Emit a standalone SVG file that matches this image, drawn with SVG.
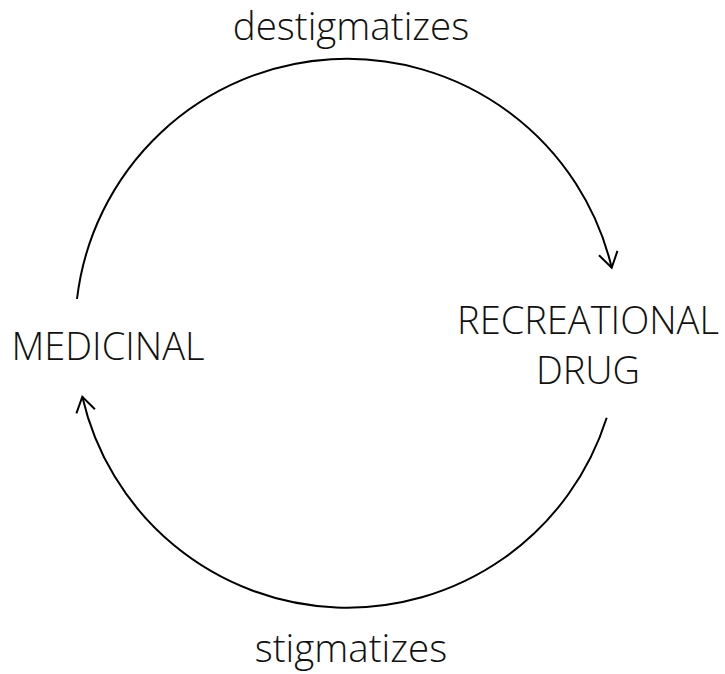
<svg xmlns="http://www.w3.org/2000/svg" width="725" height="674" viewBox="0 0 725 674">
<style>
text{font-family:"Open Sans","Lato","Liberation Sans",sans-serif;font-weight:300;fill:#111;text-anchor:middle}
.lbl{font-size:38.5px}
.node{font-size:38px}
.conn{fill:none;stroke:#000;stroke-width:2}
</style>
<defs>
<marker id="arr" markerUnits="userSpaceOnUse" markerWidth="40" markerHeight="40" viewBox="-20 -20 40 40" refX="0" refY="0" orient="auto">
<path d="M -15 -9.5 L 0 0 L -15 9.5" fill="none" stroke="#000" stroke-width="2"/>
</marker>
</defs>
<rect width="725" height="674" fill="#fff"/>
<g id="connectors">
<path class="conn" d="M 77 299 A 272 272 0 0 1 611.7 267.7" marker-end="url(#arr)"/>
<path class="conn" d="M 606.7 417.7 A 272 272 0 0 1 82.3 396.7" marker-end="url(#arr)"/>
<text class="lbl" x="351" y="40">destigmatizes</text>
<text class="lbl" x="351" y="662">stigmatizes</text>
</g>
<g id="medicinal"><text class="node" x="108" y="360">MEDICINAL</text></g>
<g id="recreational"><text class="node" x="588" y="334">RECREATIONAL</text><text class="node" x="588" y="384">DRUG</text></g>
</svg>
